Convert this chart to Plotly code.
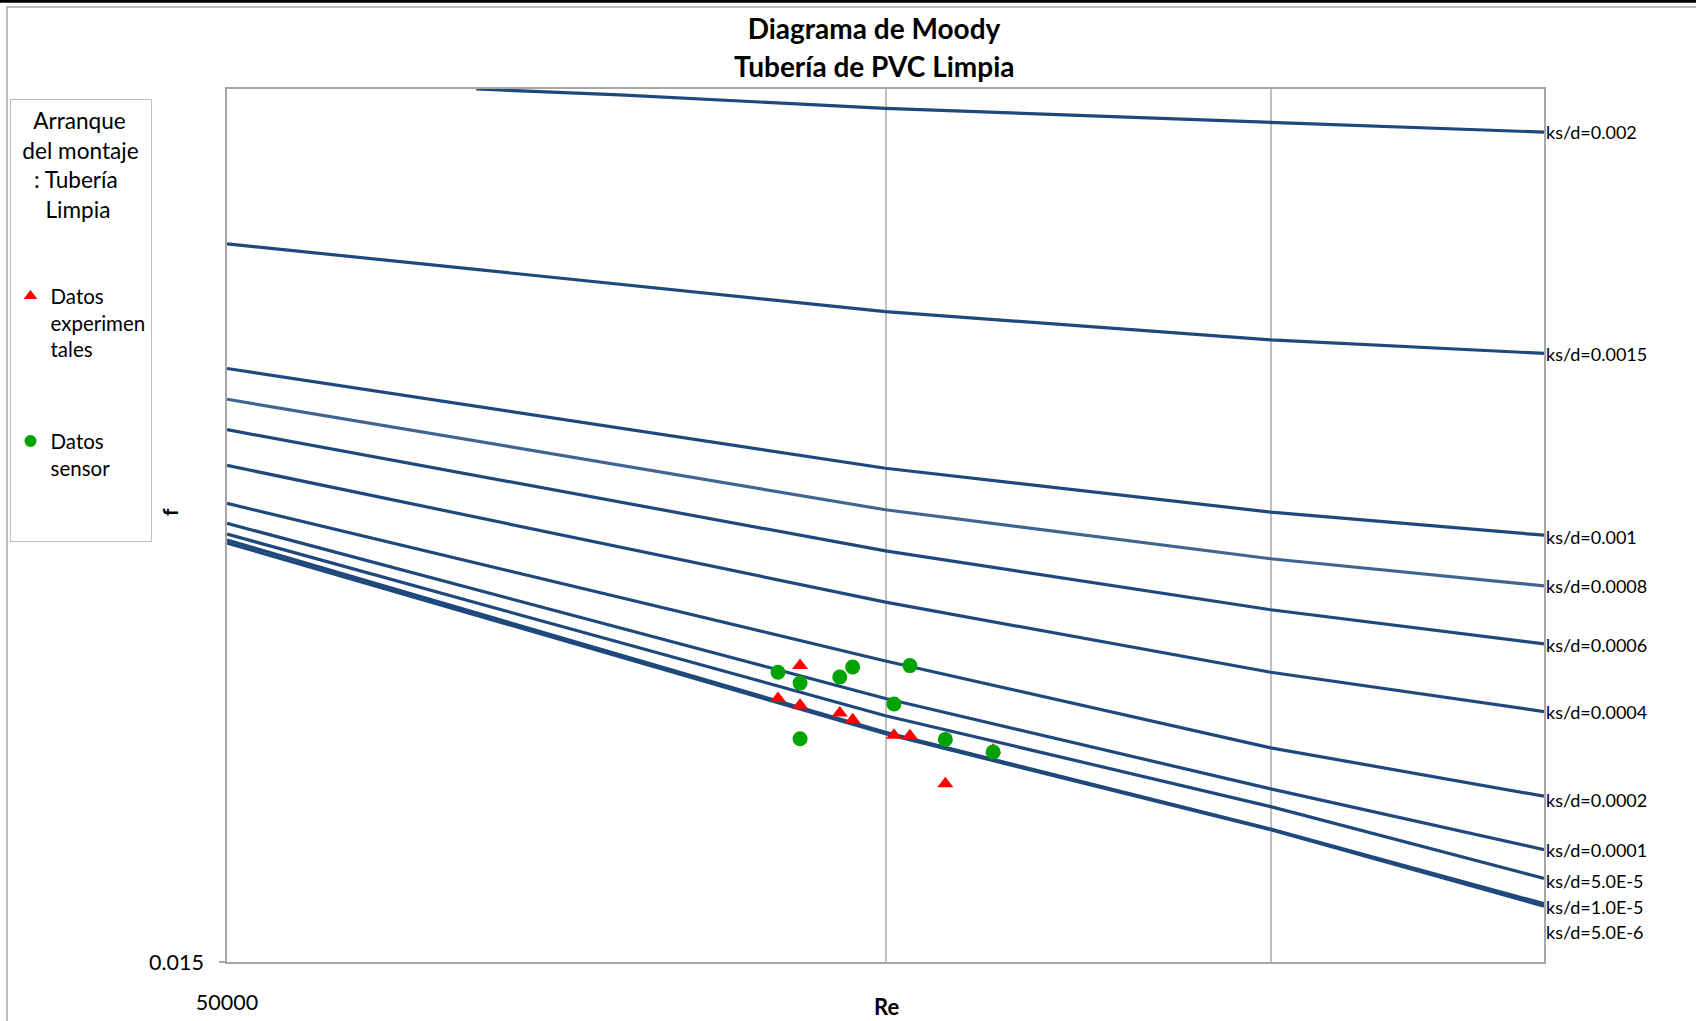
import math
import plotly.graph_objects as go

# ---------------- data ----------------
curve_labels = ["ks/d=0.002", "ks/d=0.0015", "ks/d=0.001", "ks/d=0.0008", "ks/d=0.0006",
                "ks/d=0.0004", "ks/d=0.0002", "ks/d=0.0001", "ks/d=5.0E-5",
                "ks/d=1.0E-5", "ks/d=5.0E-6"]

re_top = [65000, 75600, 100000, 150000, 200000]
re_curve = [50000, 100000, 150000, 200000]

f_0_002 = [0.03000, 0.02986, 0.02954, 0.02922, 0.02899]
f_0_0015 = [0.02653, 0.02514, 0.02458, 0.02432]
f_0_001 = [0.02403, 0.02220, 0.02144, 0.02105]
f_0_0008 = [0.02345, 0.02148, 0.02066, 0.02022]
f_0_0006 = [0.02289, 0.02079, 0.01984, 0.01931]
f_0_0004 = [0.02225, 0.01996, 0.01888, 0.01830]
f_0_0002 = [0.02159, 0.01905, 0.01778, 0.01711]
f_0_0001 = [0.02125, 0.01849, 0.01721, 0.01640]
f_5e_5 = [0.02107, 0.01824, 0.01697, 0.01603]
f_1e_5 = [0.02097, 0.01800, 0.01667, 0.01571]
f_5e_6 = [0.02092, 0.01798, 0.01666, 0.01568]

re_points = [89300, 91400, 91400, 95300, 96600, 100900, 102600, 106500, 112000]
f_experimental = [0.01849, 0.01898, 0.01839, 0.01828, 0.01818, 0.01796, 0.01795, 0.01728, 0.01775]
f_sensor = [0.01888, 0.01872, 0.01791, 0.01881, 0.01896, 0.01841, 0.01898, 0.01790, 0.01772]

x_ticks = [50000, 100000, 150000]
x_tick_text = ["50000", "", ""]
y_ticks = [0.015]
y_tick_text = ["0.015"]
x_range = [50000, 200000]
y_range = [0.015, 0.03]

# ---------------- styling ----------------
W, H = 1696, 1021
ML, MR, MT, MB = 227, 152, 89, 59
PW, PH = W - ML - MR, H - MT - MB
FONT = "Lato"
DARK = "#1F497D"
LIGHT = "#3F6590"
NB = "\u00a0"


def px_x(p):
    return (p - ML) / PW


def px_y(p):
    return (H - MB - p) / PH


curves = [
    (re_top, f_0_002), (re_curve, f_0_0015), (re_curve, f_0_001), (re_curve, f_0_0008),
    (re_curve, f_0_0006), (re_curve, f_0_0004), (re_curve, f_0_0002), (re_curve, f_0_0001),
    (re_curve, f_5e_5), (re_curve, f_1e_5), (re_curve, f_5e_6),
]
label_shift = [0, -1, -2, 0, -1, 0, -4, 0, -3, -3, -26]

fig = go.Figure()
for i, ((xs, ys), name) in enumerate(zip(curves, curve_labels)):
    fig.add_trace(go.Scatter(
        x=xs, y=ys, mode="lines", name=name, showlegend=False, hoverinfo="skip",
        line=dict(color=LIGHT if name == "ks/d=0.0008" else DARK, width=3.2),
    ))
    fig.add_annotation(
        x=1, xref="paper", y=math.log10(ys[-1]), yref="y", text=name,
        xanchor="left", yanchor="middle", xshift=0, yshift=label_shift[i],
        showarrow=False, font=dict(family=FONT, size=18, color="black"),
    )

fig.add_trace(go.Scatter(
    x=re_points, y=f_experimental, mode="markers", name="Datos<br>experimen<br>tales",
    legendgroup="a",
    marker=dict(symbol="triangle-up", size=14, color="#FF0000"),
))
fig.add_trace(go.Scatter(
    x=re_points, y=f_sensor, mode="markers", name="Datos<br>sensor<br> <br> ",
    legendgroup="b",
    marker=dict(symbol="circle", size=15, color="#00A400"),
))

# chart border and top sheet line
fig.add_shape(type="rect", xref="paper", yref="paper",
              x0=px_x(7), x1=px_x(W + 20), y0=px_y(H + 20), y1=px_y(7),
              line=dict(color="#A6A6A6", width=1.5), fillcolor="rgba(0,0,0,0)", layer="below")
fig.add_shape(type="line", xref="paper", yref="paper",
              x0=px_x(-5), x1=px_x(W + 5), y0=px_y(1.4), y1=px_y(1.4),
              line=dict(color="black", width=2.8))

# second title line and axis titles
fig.add_annotation(x=px_x(874), xref="paper", y=px_y(66), yref="paper",
                   text="<b>Tubería de PVC Limpia</b>", showarrow=False,
                   xanchor="center", yanchor="middle",
                   font=dict(family=FONT, size=28, color="black"))
fig.add_annotation(x=px_x(169), xref="paper", y=px_y(512), yref="paper",
                   text="<b>f</b>", textangle=-90, showarrow=False,
                   xanchor="center", yanchor="middle",
                   font=dict(family=FONT, size=21, color="black"))
fig.add_annotation(x=px_x(886), xref="paper", y=px_y(1006), yref="paper",
                   text="<b>Re</b>", showarrow=False,
                   xanchor="center", yanchor="middle",
                   font=dict(family=FONT, size=22, color="black"))

legend_title = "<br>".join([
    NB * 2 + "Arranque",
    "del montaje",
    NB * 2 + ": Tubería",
    NB * 4 + "Limpia",
    " ", " ",
])

fig.update_layout(
    width=W, height=H,
    margin=dict(l=ML, r=MR, t=MT, b=MB, autoexpand=False),
    paper_bgcolor="white", plot_bgcolor="white",
    font=dict(family=FONT, color="black"),
    title=dict(text="<b>Diagrama de Moody</b>", x=874 / W, xanchor="center",
               y=1 - 29 / H, yanchor="middle", font=dict(family=FONT, size=28, color="black")),
    showlegend=True,
    legend=dict(
        x=px_x(9.5), y=px_y(99), xanchor="left", yanchor="top",
        bgcolor="white", bordercolor="#BFBFBF", borderwidth=1,
        title=dict(text=legend_title, side="top center", font=dict(family=FONT, size=22.6)),
        font=dict(family=FONT, size=20.5, color="black"),
        traceorder="grouped", tracegroupgap=62, valign="top",
        itemsizing="constant",
    ),
    xaxis=dict(
        type="log", range=[math.log10(v) for v in x_range],
        tickmode="array", tickvals=x_ticks, ticktext=x_tick_text,
        showgrid=True, gridcolor="#BFBFBF", gridwidth=1.5,
        showline=True, linecolor="#A6A6A6", linewidth=1.5, mirror=True,
        ticks="", zeroline=False, ticklabelstandoff=20,
        tickfont=dict(family=FONT, size=21.5, color="black"),
    ),
    yaxis=dict(
        type="log", range=[math.log10(v) for v in y_range],
        tickmode="array", tickvals=y_ticks, ticktext=y_tick_text,
        showgrid=False, showline=True, linecolor="#A6A6A6", linewidth=1.5, mirror=True,
        ticks="outside", ticklen=6, tickcolor="#A6A6A6", tickwidth=1.5,
        zeroline=False, ticklabelstandoff=11,
        tickfont=dict(family=FONT, size=21.5, color="black"),
    ),
)

fig.write_html("out.html", config={"displayModeBar": False},
               post_script="document.body.style.margin='0px';")
